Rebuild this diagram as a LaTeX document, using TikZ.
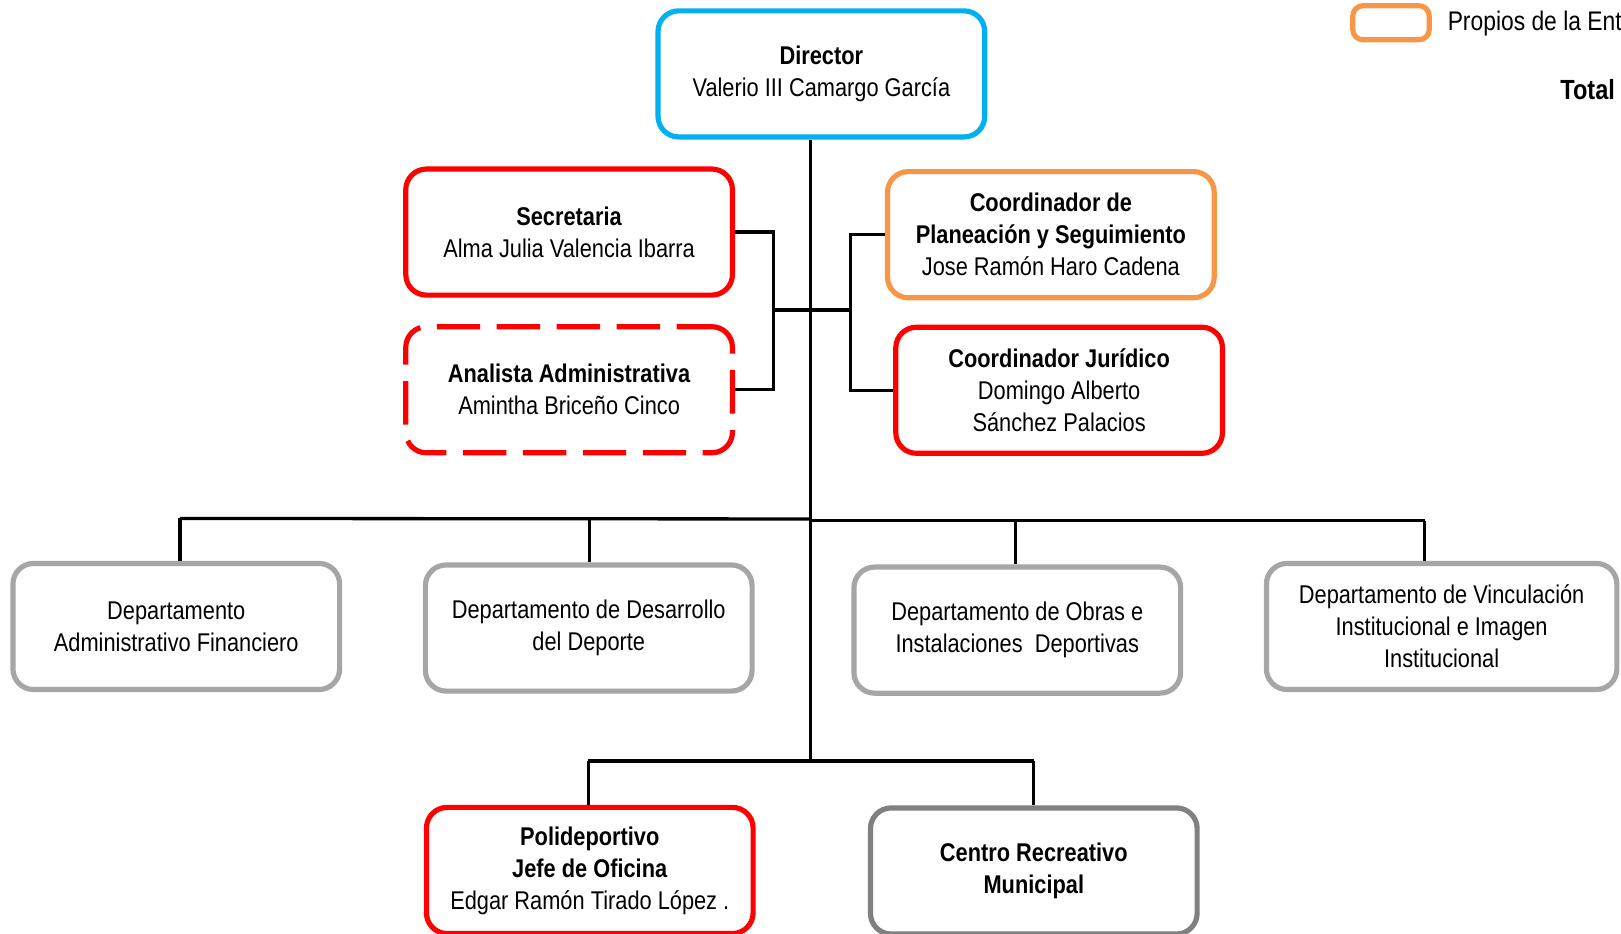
\documentclass[tikz,border=0pt]{standalone}
\usepackage{fontspec}
\setmainfont{Liberation Sans}[FakeStretch=0.85]
\definecolor{cblue}{RGB}{0,176,240}
\definecolor{cred}{RGB}{255,0,0}
\definecolor{corange}{RGB}{247,150,70}
\definecolor{cgray}{RGB}{166,166,166}
\definecolor{cdgray}{RGB}{128,128,128}
\begin{document}
\begin{tikzpicture}[x=0.5pt,y=-0.5pt,
  box/.style={draw, line width=2.5pt, rounded corners=10pt, fill=white, align=center,
    minimum width=158pt, minimum height=61pt, inner sep=0pt,
    font=\fontsize{12.4pt}{15.5pt}\selectfont},
  conn/.style={line width=1.6pt, black},
  dashbox/.style={dash pattern=on 21pt off 8pt, dash phase=4pt}
]
\useasboundingbox (0,0) rectangle (1568,903.4);

% boxes
\node[box, draw=cblue] (dir) at (794.5,71.5) {\textbf{Director}\\Valerio III Camargo García};
\node[box, draw=cred] (sec) at (550.5,224.5) {\textbf{Secretaria}\\Alma Julia Valencia Ibarra};
\node[box, draw=cred, dashbox] (ana) at (550.5,377) {\textbf{Analista Administrativa}\\Amintha Briceño Cinco};
\node[box, draw=corange] (plan) at (1016.5,227) {\textbf{Coordinador de}\\\textbf{Planeación y Seguimiento}\\Jose Ramón Haro Cadena};
\node[box, draw=cred] (jur) at (1024.5,377.5) {\textbf{Coordinador Jurídico}\\Domingo Alberto\\ Sánchez Palacios};

\node[box, draw=cgray] (d1) at (170.5,606) {Departamento\\Administrativo Financiero};
\node[box, draw=cgray] (d2) at (569.5,607.5) {Departamento de Desarrollo\\del Deporte};
\node[box, draw=cgray] (d3) at (984,609.5) {Departamento de Obras e\\Instalaciones\ \ Deportivas};
\node[box, draw=cgray, minimum width=169.5pt] (d4) at (1394.5,606) {Departamento de Vinculación\\Institucional e Imagen\\Institucional};

\node[box, draw=cred] (pol) at (570.5,842) {\textbf{Polideportivo}\\\textbf{Jefe de Oficina}\\Edgar Ramón Tirado López .};
\node[box, draw=cdgray] (cen) at (1000,842.5) {\textbf{Centro Recreativo}\\\textbf{Municipal}};

% legend
\node[draw=corange, line width=2.5pt, rounded corners=5pt, minimum width=37pt, minimum height=16.5pt, inner sep=0pt] (leg) at (1345.5,22) {};
\node[anchor=base west, inner sep=0pt, font=\fontsize{13pt}{16pt}\selectfont] (legt) at (1400,29.5) {Propios de la Entidad};
\node[anchor=base west, inner sep=0pt, font=\fontsize{13.4pt}{16pt}\selectfont\bfseries] (tot) at (1509,96.5) {Total};

% junction coordinates
\coordinate (lbx) at (748,300);
\coordinate (rbx) at (823,300);
\coordinate (barL) at (174,501.5);
\coordinate (barM) at (784,502);
\coordinate (barMr) at (784,503.5);
\coordinate (barR) at (1378,503.5);
\coordinate (b2) at (570,502);
\coordinate (b3) at (982,503.5);
\coordinate (lowM) at (784,736);
\coordinate (lowL) at (569,736);
\coordinate (lowR) at (1000,736);

% connectors
\draw[conn] (lowM |- dir.south) -- (lowM);
\draw[conn] (sec.east) -| (lbx) |- (ana.east);
\draw[conn] (lbx) -- (rbx);
\draw[conn] (plan.west) -| (rbx) |- (jur.west);
\draw[conn] (barL) -- (barM);
\draw[conn] (barMr) -- (barR);
\draw[conn] (barL) -- (barL |- d1.north);
\draw[conn] (b2) -- (b2 |- d2.north);
\draw[conn] (b3) -- (b3 |- d3.north);
\draw[conn] (barR) -- (barR |- d4.north);
\draw[conn] (lowL) -- (lowR);
\draw[conn] (lowL) -- (lowL |- pol.north);
\draw[conn] (lowR) -- (lowR |- cen.north);
\end{tikzpicture}
\end{document}
